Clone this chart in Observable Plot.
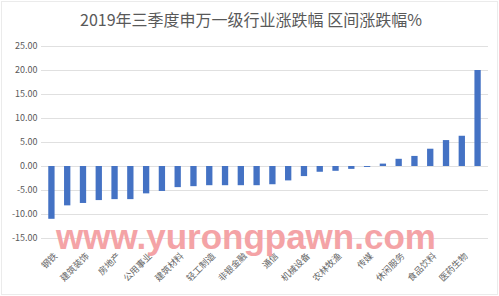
<!DOCTYPE html>
<html>
<head>
<meta charset="utf-8">
<script src="https://cdn.jsdelivr.net/npm/d3@7"></script>
<script src="https://cdn.jsdelivr.net/npm/@observablehq/plot@0.6"></script>
<style>
  html, body { margin: 0; padding: 0; background: #fff; }
  svg { outline: 1px solid #ebebeb; outline-offset: -2px; }
</style>
</head>
<body>
<div id="chart"></div>
<script>
const titleText = "2019年三季度申万一级行业涨跌幅 区间涨跌幅%";
const watermarkText = "www.yurongpawn.com";
const industries = [
  "钢铁", "采掘", "建筑装饰", "汽车", "房地产", "纺织服装", "公用事业",
  "交通运输", "建筑材料", "有色金属", "轻工制造", "银行", "非银金融", "商业贸易",
  "通信", "化工", "机械设备", "综合", "农林牧渔", "国防军工", "传媒",
  "电气设备", "休闲服务", "家用电器", "食品饮料", "计算机", "医药生物", "电子"
];
const changes = [
  -11.0, -8.2, -7.7, -7.1, -6.9, -6.9, -5.7,
  -5.2, -4.4, -4.2, -4.0, -4.0, -4.0, -4.0,
  -3.8, -3.0, -2.1, -1.2, -1.0, -0.6, -0.2,
  0.5, 1.5, 2.1, 3.6, 5.4, 6.3, 20.0
];
const yTicks = [-15, -10, -5, 0, 5, 10, 15, 20, 25];
const labeledIndustries = industries.filter((d, i) => i % 2 === 0);

const data = industries.map((industry, i) => ({industry, change: changes[i]}));

const chart = Plot.plot({
  width: 499,
  height: 296,
  marginTop: 46,
  marginBottom: 58,
  marginLeft: 41,
  marginRight: 11,
  style: {fontFamily: "'Noto Sans CJK SC', 'Noto Sans', sans-serif", background: "#fff", color: "#595959"},
  x: {domain: industries, paddingInner: 0.6, paddingOuter: 0.46, round: false, axis: null},
  y: {domain: [-15, 25], axis: null},
  marks: [
    Plot.gridY(yTicks, {stroke: "#e0e0e0", strokeOpacity: 1}),
    Plot.axisY(yTicks, {tickSize: 0, tickPadding: 4, tickFormat: d => d.toFixed(2), fontSize: 9, fill: "#595959", label: null}),
    Plot.barY(data, {x: "industry", y: "change", fill: "#4472C4"}),
    Plot.axisX(labeledIndustries, {tickSize: 0, tickRotate: -45, tickPadding: 16, dx: 4, fontSize: 9, fill: "#666666", label: null}),
    Plot.text([watermarkText], {frameAnchor: "bottom", lineAnchor: "middle", dx: -19, dy: -1, fontSize: 35, fontWeight: "bold", fontFamily: "'Liberation Sans', Arial, sans-serif", fill: "#f4a3a6"}),
    Plot.text([titleText], {frameAnchor: "top", lineAnchor: "middle", dx: -14, dy: -26, fontSize: 16, fill: "#595959"})
  ]
});
document.getElementById("chart").appendChild(chart);
</script>
</body>
</html>
